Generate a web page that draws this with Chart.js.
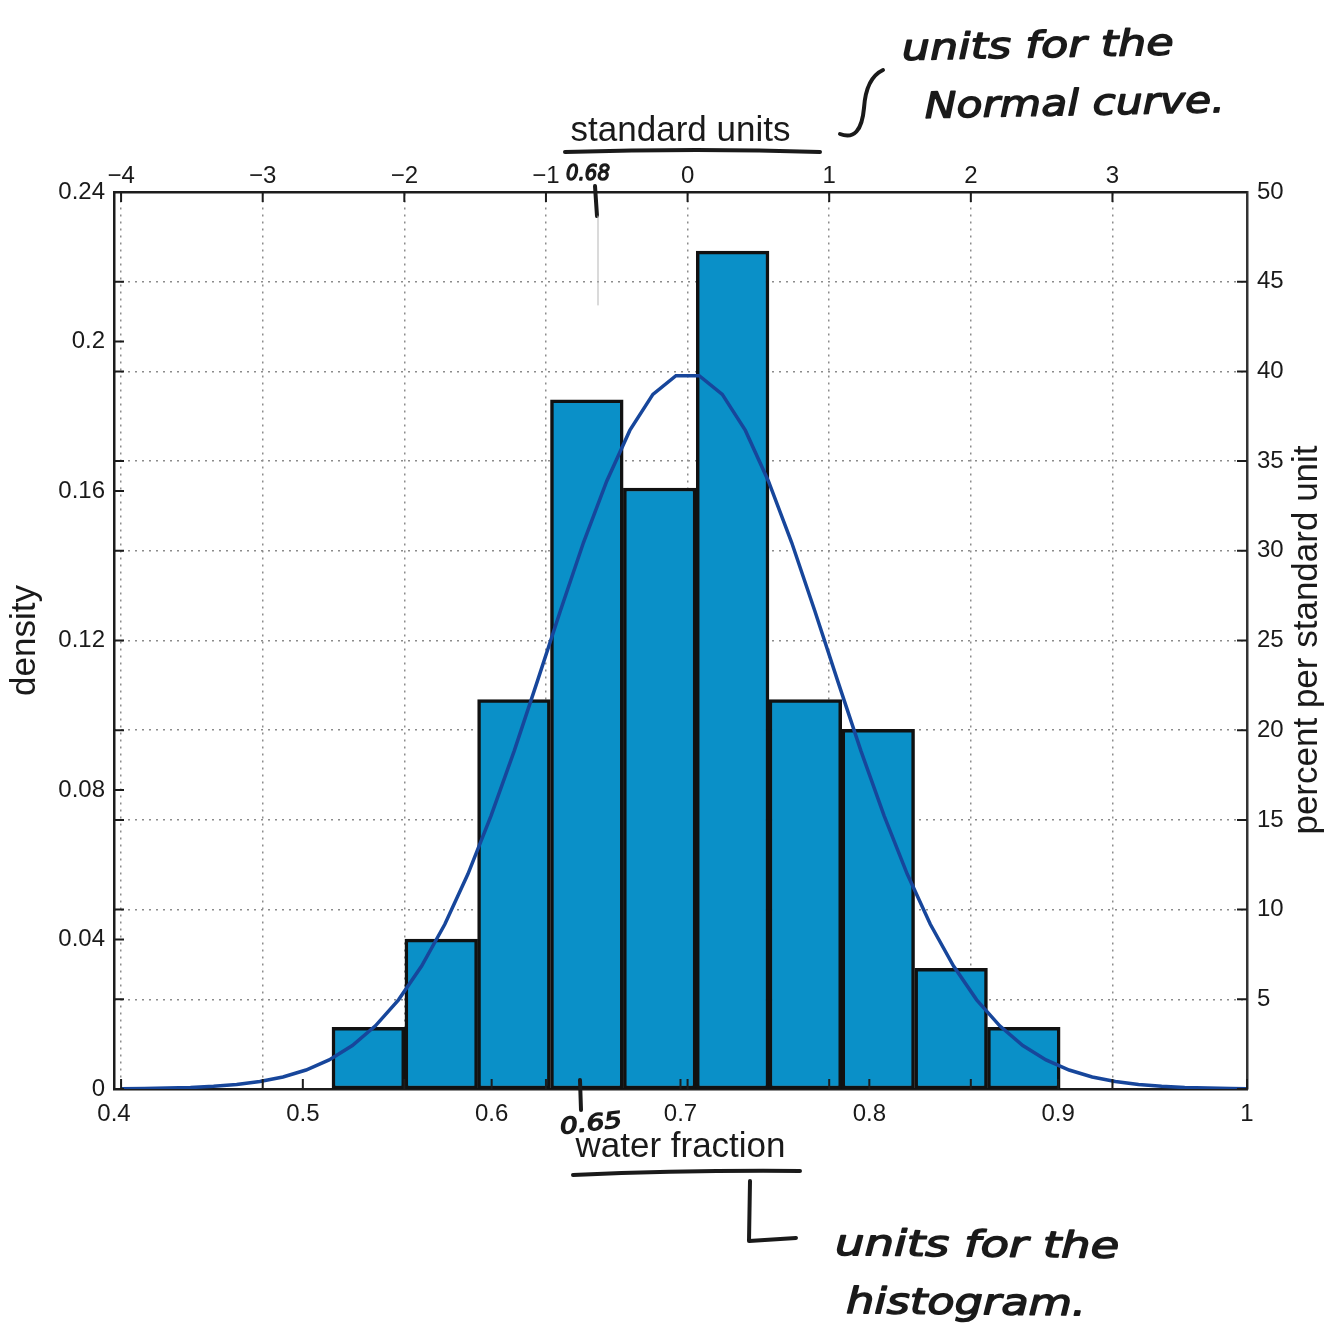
<!DOCTYPE html>
<html>
<head>
<meta charset="utf-8">
<script src="https://cdn.jsdelivr.net/npm/chart.js@4.4.1/dist/chart.umd.min.js"></script>
<style>
  html, body { margin: 0; padding: 0; background: #fff; }
  canvas { display: block; }
</style>
</head>
<body>
<canvas id="chart" width="1340" height="1341"></canvas>
<script>
// histogram: bin centres (water fraction) and heights (density)
const binCenters = [0.5347, 0.5733, 0.6118, 0.6504, 0.6890, 0.7276, 0.7661, 0.8047, 0.8433, 0.8818];
const binDensity = [0.0165, 0.0401, 0.1042, 0.1844, 0.1608, 0.2242, 0.1042, 0.0962, 0.0323, 0.0165];

// normal curve, standard units vs percent per standard unit
const curveZ = [-4, -3.837, -3.673, -3.510, -3.347, -3.184, -3.020, -2.857, -2.694, -2.531,
  -2.367, -2.204, -2.041, -1.878, -1.714, -1.551, -1.388, -1.224, -1.061, -0.898,
  -0.735, -0.571, -0.408, -0.245, -0.082, 0.082, 0.245, 0.408, 0.571, 0.735,
  0.898, 1.061, 1.224, 1.388, 1.551, 1.714, 1.878, 2.041, 2.204, 2.367,
  2.531, 2.694, 2.857, 3.020, 3.184, 3.347, 3.510, 3.673, 3.837, 4];
const curvePct = [0.01, 0.03, 0.05, 0.08, 0.15, 0.25, 0.42, 0.67, 1.06, 1.62,
  2.42, 3.52, 4.97, 6.85, 9.18, 11.98, 15.23, 18.85, 22.72, 26.66,
  30.46, 33.88, 36.71, 38.72, 39.76, 39.76, 38.72, 36.71, 33.88, 30.46,
  26.66, 22.72, 18.85, 15.23, 11.98, 9.18, 6.85, 4.97, 3.52, 2.42,
  1.62, 1.06, 0.67, 0.42, 0.25, 0.15, 0.08, 0.05, 0.03, 0.01];

const bottomTicks = [0.4, 0.5, 0.6, 0.7, 0.8, 0.9, 1];
const topTicks = [-4, -3, -2, -1, 0, 1, 2, 3];
const leftTicks = [0, 0.04, 0.08, 0.12, 0.16, 0.2, 0.24];
const rightTicks = [0, 5, 10, 15, 20, 25, 30, 35, 40, 45, 50];

Chart.defaults.font.family = '"Liberation Sans", Arial, sans-serif';
Chart.defaults.color = '#1a1a1a';

const ink = '#1c1c1c';
const gridGrey = '#8c8c8c';
const setTicks = arr => scale => { scale.ticks = arr.map(v => ({ value: v })); };
const minus = v => String(v).replace('-', '\u2212');

// MATLAB style ticks pointing into the plot
const inwardTicks = {
  id: 'inwardTicks',
  afterDatasetsDraw(chart) {
    const { ctx, chartArea: a, scales } = chart;
    const len = 10;
    ctx.save();
    ctx.strokeStyle = ink;
    ctx.lineWidth = 2;
    ctx.beginPath();
    scales.x.ticks.forEach(t => {
      const p = scales.x.getPixelForValue(t.value);
      ctx.moveTo(p, a.bottom); ctx.lineTo(p, a.bottom - len);
    });
    scales.xTop.ticks.forEach(t => {
      const p = scales.xTop.getPixelForValue(t.value);
      ctx.moveTo(p, a.top); ctx.lineTo(p, a.top + len);
      ctx.moveTo(p, a.bottom); ctx.lineTo(p, a.bottom - len);
    });
    scales.y.ticks.forEach(t => {
      const p = scales.y.getPixelForValue(t.value);
      ctx.moveTo(a.left, p); ctx.lineTo(a.left + len, p);
    });
    scales.yRight.ticks.forEach(t => {
      const p = scales.yRight.getPixelForValue(t.value);
      ctx.moveTo(a.right, p); ctx.lineTo(a.right - len, p);
      ctx.moveTo(a.left, p); ctx.lineTo(a.left + len, p);
    });
    ctx.stroke();
    ctx.restore();
  }
};

// handwritten-looking text, squeezed to a given width
function scribble(ctx, text, x, y, w, size, angle) {
  ctx.save();
  ctx.font = 'italic ' + size + 'px "DejaVu Sans", sans-serif';
  ctx.translate(x, y);
  if (angle) ctx.rotate(angle);
  const m = ctx.measureText(text).width;
  ctx.scale(w / m, 1);
  ctx.lineWidth = 1.4;
  ctx.fillText(text, 0, 0);
  ctx.strokeText(text, 0, 0);
  ctx.restore();
}

const notes = {
  id: 'notes',
  afterDraw(chart) {
    const ctx = chart.ctx;
    // right axis title reads bottom-to-top
    ctx.save();
    ctx.fillStyle = '#1a1a1a';
    ctx.font = '35px "Liberation Sans", Arial, sans-serif';
    ctx.textAlign = 'center';
    ctx.textBaseline = 'middle';
    ctx.translate(1307, 640);
    ctx.rotate(-Math.PI / 2);
    ctx.fillText('percent per standard unit', 0, 0);
    ctx.restore();

    ctx.save();
    ctx.strokeStyle = '#1a1a1a';
    ctx.fillStyle = '#1a1a1a';
    ctx.lineCap = 'round';
    ctx.lineJoin = 'round';
    ctx.lineWidth = 4;
    ctx.textBaseline = 'alphabetic';

    // underline under "standard units"
    ctx.beginPath();
    ctx.moveTo(565, 152); ctx.quadraticCurveTo(700, 148, 820, 152);
    ctx.stroke();
    // swoosh
    ctx.beginPath();
    ctx.moveTo(883, 70);
    ctx.quadraticCurveTo(866, 78, 864, 108);
    ctx.quadraticCurveTo(861, 142, 840, 134);
    ctx.stroke();
    // marker at -0.68
    ctx.beginPath();
    ctx.moveTo(595, 186); ctx.lineTo(597, 216);
    ctx.stroke();
    ctx.save();
    ctx.lineWidth = 1;
    ctx.strokeStyle = '#b5b5b5';
    ctx.beginPath();
    ctx.moveTo(598, 216); ctx.lineTo(598, 305);
    ctx.stroke();
    ctx.restore();
    // marker at 0.65
    ctx.beginPath();
    ctx.moveTo(580, 1080); ctx.lineTo(581, 1110);
    ctx.stroke();
    // underline under "water fraction"
    ctx.beginPath();
    ctx.moveTo(573, 1175); ctx.quadraticCurveTo(690, 1170, 800, 1171);
    ctx.stroke();
    // L bracket
    ctx.beginPath();
    ctx.moveTo(750, 1181); ctx.lineTo(749, 1241); ctx.lineTo(796, 1238);
    ctx.stroke();

    scribble(ctx, 'units for the', 902, 60, 272, 36, -0.02);
    scribble(ctx, 'Normal curve.', 925, 118, 300, 36, -0.02);
    scribble(ctx, 'units for the', 835, 1255, 284, 36, 0.01);
    scribble(ctx, 'histogram.', 846, 1313, 240, 36, 0.01);
    scribble(ctx, '0.68', 566, 180, 44, 22, 0);
    scribble(ctx, '0.65', 561, 1134, 62, 22, -0.12);
    ctx.restore();
  }
};

new Chart(document.getElementById('chart'), {
  type: 'bar',
  data: {
    datasets: [
      {
        type: 'line',
        label: 'normal curve',
        data: curveZ.map((z, i) => ({ x: z, y: curvePct[i] })),
        xAxisID: 'xTop',
        yAxisID: 'yRight',
        borderColor: '#17469b',
        borderWidth: 3.5,
        pointRadius: 0,
        tension: 0,
        grouped: false,
        order: 0
      },
      {
        label: 'histogram',
        data: binCenters.map((c, i) => ({ x: c, y: binDensity[i] })),
        xAxisID: 'x',
        yAxisID: 'y',
        backgroundColor: '#0a90c8',
        borderColor: '#111',
        borderWidth: 3.5,
        borderSkipped: false,
        barPercentage: 1,
        categoryPercentage: 1,
        grouped: false,
        order: 1
      }
    ]
  },
  options: {
    responsive: false,
    animation: false,
    layout: { padding: { top: 0, left: 0, right: 0, bottom: 162 } },
    plugins: { legend: { display: false }, tooltip: { enabled: false } },
    scales: {
      x: {
        type: 'linear',
        position: 'bottom',
        offset: false,
        min: 0.4,
        max: 1,
        afterBuildTicks: setTicks(bottomTicks),
        afterFit: s => { s.height = 90; },
        grid: { display: false, drawTicks: false },
        border: { color: ink, width: 2.5 },
        ticks: { font: { size: 24 }, padding: 11, autoSkip: false, maxRotation: 0, callback: v => String(v) },
        title: { display: true, text: 'water fraction', font: { size: 35 }, padding: { top: 0, bottom: 11 } }
      },
      xTop: {
        type: 'linear',
        position: 'top',
        offset: false,
        min: -4.05,
        max: 3.95,
        afterBuildTicks: setTicks(topTicks),
        afterFit: s => { s.height = 192; },
        grid: { color: gridGrey, lineWidth: 1.5, drawTicks: false, offset: false },
        border: { color: ink, width: 2.5, dash: [2, 5] },
        ticks: { font: { size: 24 }, padding: 1, autoSkip: false, maxRotation: 0, callback: v => minus(v) },
        title: { display: true, text: 'standard units', font: { size: 35 }, padding: { top: 110, bottom: 0 } }
      },
      y: {
        type: 'linear',
        position: 'left',
        min: 0,
        max: 0.24,
        afterBuildTicks: setTicks(leftTicks),
        afterFit: s => { s.width = 114; },
        grid: { display: false, drawTicks: false },
        border: { color: ink, width: 2.5 },
        ticks: { font: { size: 24 }, padding: 9, autoSkip: false, callback: v => String(v) },
        title: { display: true, text: 'density', font: { size: 35 }, padding: { top: 4, bottom: 0 } }
      },
      yRight: {
        type: 'linear',
        position: 'right',
        min: 0,
        max: 50,
        afterBuildTicks: setTicks(rightTicks),
        afterFit: s => { s.width = 93; },
        grid: {
          lineWidth: 1.5,
          drawTicks: false,
          color: c => (c.tick && (c.tick.value === 0 || c.tick.value === 50)) ? 'rgba(0,0,0,0)' : gridGrey
        },
        border: { color: '#333', width: 2.5, dash: [2, 5] },
        ticks: { font: { size: 24 }, padding: 10, autoSkip: false, callback: v => v === 0 ? '' : String(v) }
      }
    }
  },
  plugins: [inwardTicks, notes]
});
</script>
</body>
</html>
